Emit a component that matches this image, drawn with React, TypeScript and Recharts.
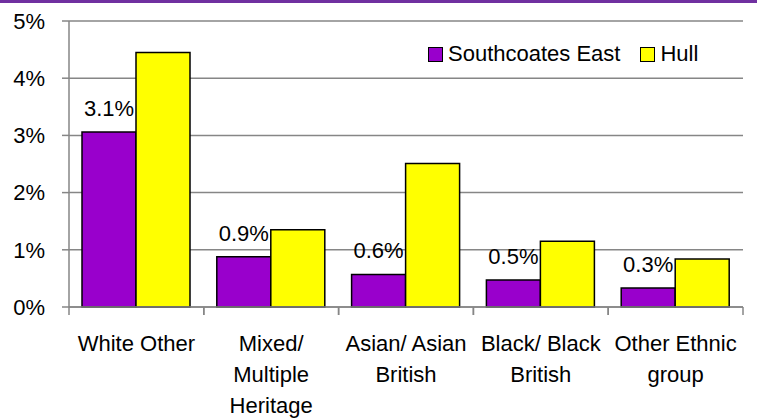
import { BarChart, Bar, XAxis, YAxis, CartesianGrid, Legend, LabelList } from "recharts";

const categories = ["White Other", "Mixed/\nMultiple\nHeritage", "Asian/ Asian\nBritish", "Black/ Black\nBritish", "Other Ethnic\ngroup"];
const seriesNames = ["Southcoates East", "Hull"];
const southcoatesEast = [3.06, 0.88, 0.57, 0.47, 0.33];
const hull = [4.45, 1.35, 2.51, 1.15, 0.84];
const yTicks = [0, 1, 2, 3, 4, 5];

const data = categories.map((name, i) => ({
  name,
  southcoates: southcoatesEast[i],
  hull: hull[i],
}));

const font = '"Liberation Sans", Arial, sans-serif';
const axisGray = "#868686";

const CategoryTick = (props: any) => {
  const { x, y, payload } = props;
  const half = payload.offset ?? 67;
  const lines = String(payload.value).split("\n");
  return (
    <g>
      <line x1={x - half} y1={y - 8} x2={x - half} y2={y} stroke={axisGray} strokeWidth={1.5} />
      <line x1={x + half} y1={y - 8} x2={x + half} y2={y} stroke={axisGray} strokeWidth={1.5} />
      <text x={x} y={y + 36} textAnchor="middle" fontSize={22} fontFamily={font} fill="#000">
        {lines.map((l, i) => (
          <tspan key={i} x={x} dy={i === 0 ? 0 : 31}>
            {l}
          </tspan>
        ))}
      </text>
    </g>
  );
};

const LegendContent = (props: any) => {
  const payload = [...(props.payload || [])].sort(
    (a: any, b: any) => seriesNames.indexOf(a.value) - seriesNames.indexOf(b.value)
  );
  return (
    <div style={{ display: "flex", alignItems: "center", fontFamily: font, fontSize: 22, color: "#000" }}>
      {payload.map((p: any, i: number) => (
        <div key={i} style={{ display: "flex", alignItems: "center", marginRight: i === 0 ? 20 : 0 }}>
          <span
            style={{
              display: "inline-block",
              width: 13,
              height: 13,
              background: p.color,
              border: "1.5px solid #000",
              marginRight: 5,
            }}
          />
          <span>{p.value}</span>
        </div>
      ))}
    </div>
  );
};

export default function App() {
  return (
    <div style={{ position: "absolute", left: 0, top: 0, width: 757, height: 419, background: "#fff" }}>
      <div style={{ position: "absolute", left: 0, top: 0, width: 757, height: 3, background: "#7030A0" }} />
      <BarChart
        width={757}
        height={419}
        data={data}
        margin={{ top: 21, right: 14, bottom: 0, left: 0 }}
        barCategoryGap={13}
        barGap={0}
      >
        <CartesianGrid vertical={false} stroke={axisGray} strokeWidth={1.5} />
        <XAxis
          dataKey="name"
          height={112}
          axisLine={{ stroke: axisGray, strokeWidth: 1.5 }}
          tickLine={false}
          tick={<CategoryTick />}
          interval={0}
        />
        <YAxis
          width={69}
          domain={[0, 5]}
          ticks={yTicks}
          tickFormatter={(v) => `${v}%`}
          axisLine={{ stroke: axisGray, strokeWidth: 1.5 }}
          tickLine={{ stroke: axisGray, strokeWidth: 1.5 }}
          tickSize={7}
          tickMargin={17}
          tick={{ fontSize: 22, fontFamily: font, fill: "#000" }}
        />
        <Legend
          layout="horizontal"
          verticalAlign="middle"
          align="center"
          content={<LegendContent />}
          wrapperStyle={{ top: 41, left: 428, width: 300 }}
        />
        <Bar dataKey="southcoates" name={seriesNames[0]} fill="#9900CC" stroke="#000" strokeWidth={1.5} isAnimationActive={false}>
          <LabelList
            dataKey="southcoates"
            position="top"
            offset={16}
            formatter={(v: any) => `${Number(v).toFixed(1)}%`}
            style={{ fontSize: 22, fontFamily: font, fill: "#000" }}
          />
        </Bar>
        <Bar dataKey="hull" name={seriesNames[1]} fill="#FFFF00" stroke="#000" strokeWidth={1.5} isAnimationActive={false} />
      </BarChart>
    </div>
  );
}
